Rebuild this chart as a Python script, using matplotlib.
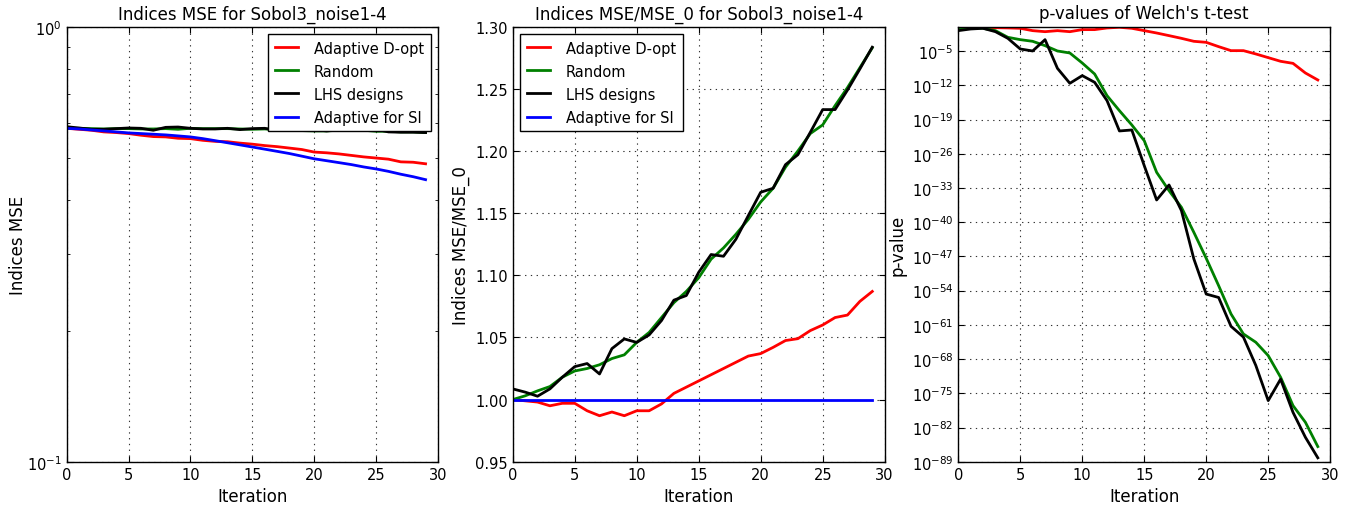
"""Indices MSE comparison for Sobol3_noise1-4 (three panels)."""

import matplotlib
matplotlib.use("Agg")
import matplotlib.pyplot as plt
from matplotlib.ticker import FixedLocator, NullLocator, NullFormatter, FormatStrFormatter, LogFormatterSciNotation

plt.rcParams['font.family'] = ['DejaVu Sans']
plt.rcParams['mathtext.fontset'] = 'dejavusans'
plt.rcParams['xtick.direction'] = 'in'
plt.rcParams['ytick.direction'] = 'in'
plt.rcParams['xtick.top'] = True
plt.rcParams['ytick.right'] = True
plt.rcParams['xtick.major.size'] = 4
plt.rcParams['ytick.major.size'] = 4
plt.rcParams['xtick.minor.size'] = 2
plt.rcParams['ytick.minor.size'] = 2

# Iterations
iterations = list(range(30))

labels = ["Adaptive D-opt", "Random", "LHS designs", "Adaptive for SI"]
colors = ["red", "green", "black", "blue"]

# Indices MSE (left panel)
mse_dopt = [0.584, 0.581, 0.578, 0.573, 0.571, 0.568, 0.563, 0.559, 0.558, 0.554,
            0.553, 0.548, 0.545, 0.544, 0.540, 0.537, 0.533, 0.530, 0.526, 0.522,
            0.515, 0.513, 0.510, 0.506, 0.502, 0.499, 0.496, 0.489, 0.488, 0.484]
mse_random = [0.584, 0.584, 0.583, 0.582, 0.583, 0.583, 0.582, 0.582, 0.583, 0.581,
              0.584, 0.583, 0.583, 0.583, 0.582, 0.581, 0.582, 0.580, 0.579, 0.577,
              0.576, 0.576, 0.578, 0.578, 0.578, 0.575, 0.575, 0.573, 0.573, 0.571]
mse_lhs = [0.589, 0.585, 0.581, 0.581, 0.583, 0.585, 0.584, 0.578, 0.587, 0.588,
           0.584, 0.582, 0.582, 0.584, 0.580, 0.583, 0.584, 0.577, 0.577, 0.579,
           0.580, 0.576, 0.579, 0.577, 0.578, 0.581, 0.573, 0.572, 0.572, 0.571]
mse_si = [0.584, 0.582, 0.579, 0.576, 0.573, 0.570, 0.568, 0.566, 0.564, 0.561,
          0.558, 0.553, 0.547, 0.541, 0.535, 0.529, 0.523, 0.517, 0.511, 0.504,
          0.497, 0.492, 0.487, 0.482, 0.476, 0.471, 0.465, 0.458, 0.452, 0.445]

# Indices MSE/MSE_0 (middle panel)
ratio_dopt = [1.000, 0.999, 0.998, 0.995, 0.997, 0.997, 0.991, 0.987, 0.990, 0.987,
              0.991, 0.991, 0.9965, 1.005, 1.010, 1.015, 1.020, 1.025, 1.030, 1.035,
              1.037, 1.042, 1.0475, 1.049, 1.0555, 1.060, 1.066, 1.068, 1.079, 1.087]
ratio_random = [1.000, 1.003, 1.007, 1.0105, 1.018, 1.023, 1.025, 1.028, 1.033, 1.036,
                1.046, 1.054, 1.066, 1.078, 1.087, 1.098, 1.113, 1.122, 1.133, 1.145,
                1.159, 1.170, 1.187, 1.200, 1.214, 1.221, 1.2365, 1.251, 1.267, 1.283]
ratio_lhs = [1.0086, 1.006, 1.0027, 1.0086, 1.018, 1.0265, 1.029, 1.0206, 1.041, 1.0488,
             1.046, 1.052, 1.0636, 1.080, 1.0837, 1.1024, 1.1167, 1.1153, 1.129, 1.148,
             1.1668, 1.170, 1.189, 1.197, 1.215, 1.2333, 1.2333, 1.249, 1.266, 1.2835]
ratio_si = [1.0] * 30

# log10 of p-values (right panel)
logp_dopt = [-0.1, -0.15, -0.2, -0.2, -0.25, -0.33, -0.81, -1.02, -0.81, -1.02,
             -0.6, -0.6, -0.26, -0.12, -0.33, -0.81, -1.29, -1.83, -2.38, -2.99,
             -3.2, -4.08, -4.9, -4.9, -5.58, -6.33, -7.08, -7.5, -9.47, -10.9]
logp_random = [-0.33, -0.2, -0.33, -0.81, -2.17, -2.65, -2.99, -3.88, -4.97, -5.38,
               -7.43, -9.68, -14.11, -17.18, -20.11, -23.31, -29.79, -33.54, -36.95, -42.06,
               -47.38, -52.97, -58.77, -62.86, -64.56, -67.29, -71.72, -77.52, -80.93, -85.9]
logp_lhs = [-0.81, -0.47, -0.33, -1.02, -2.38, -4.56, -4.97, -2.65, -8.52, -11.58,
            -10.01, -11.38, -15.13, -21.33, -21.13, -28.42, -35.45, -32.38, -37.63, -47.5,
            -54.7, -55.4, -61.3, -63.5, -69.3, -76.5, -72.1, -78.9, -84.0, -88.2]

p_ticks_exp = [-5, -12, -19, -26, -33, -40, -47, -54, -61, -68, -75, -82, -89]

fig = plt.figure(figsize=(13.55, 5.1), dpi=100)
ax1 = fig.add_axes([0.0492, 0.0927, 0.2740, 0.8530])
ax2 = fig.add_axes([0.3784, 0.0927, 0.2745, 0.8530])
ax3 = fig.add_axes([0.7072, 0.0927, 0.2745, 0.8530])

legend_style = dict(fontsize=10.5, fancybox=False, framealpha=1, edgecolor='black',
                    handlelength=1.6, handletextpad=1.1, borderpad=0.45, labelspacing=0.55)

# Left panel
for values, label, color in zip([mse_dopt, mse_random, mse_lhs, mse_si], labels, colors):
    ax1.plot(iterations, values, color=color, linewidth=2, label=label)
ax1.set_yscale('log')
ax1.set_ylim(0.1, 1.0)
ax1.yaxis.set_minor_formatter(NullFormatter())
ax1.set_title("Indices MSE for Sobol3_noise1-4", fontsize=12)
ax1.set_ylabel("Indices MSE", fontsize=12, labelpad=0)
ax1.legend(loc='upper right', **legend_style)

# Middle panel
for values, label, color in zip([ratio_dopt, ratio_random, ratio_lhs, ratio_si], labels, colors):
    ax2.plot(iterations, values, color=color, linewidth=2, label=label)
ax2.set_ylim(0.95, 1.30)
ax2.yaxis.set_major_locator(FixedLocator([0.95, 1.00, 1.05, 1.10, 1.15, 1.20, 1.25, 1.30]))
ax2.yaxis.set_major_formatter(FormatStrFormatter('%.2f'))
ax2.set_title("Indices MSE/MSE_0 for Sobol3_noise1-4", fontsize=12)
ax2.set_ylabel("Indices MSE/MSE_0", fontsize=12)
ax2.legend(loc='upper left', **legend_style)

# Right panel
for values, color in zip([logp_dopt, logp_random, logp_lhs], colors[:3]):
    ax3.plot(iterations, [10.0 ** v for v in values], color=color, linewidth=2)
ax3.set_yscale('log')
ax3.set_ylim(1e-89, 1.0)
ax3.yaxis.set_major_locator(FixedLocator([10.0 ** e for e in p_ticks_exp]))
ax3.yaxis.set_major_formatter(LogFormatterSciNotation())
ax3.yaxis.set_minor_locator(NullLocator())
ax3.set_title("p-values of Welch's t-test", fontsize=12)
ax3.set_ylabel("p-value", fontsize=12)

for ax in (ax1, ax2, ax3):
    ax.set_xlim(0, 30)
    ax.set_xticks([0, 5, 10, 15, 20, 25, 30])
    ax.set_xlabel("Iteration", fontsize=12)
    ax.tick_params(labelsize=10.5)
    ax.grid(True, color='black', linestyle=(0, (1.2, 4.0)), linewidth=0.8, alpha=0.8)
    for spine in ax.spines.values():
        spine.set_linewidth(1.0)

fig.savefig("out.png", dpi=100, facecolor='white')
